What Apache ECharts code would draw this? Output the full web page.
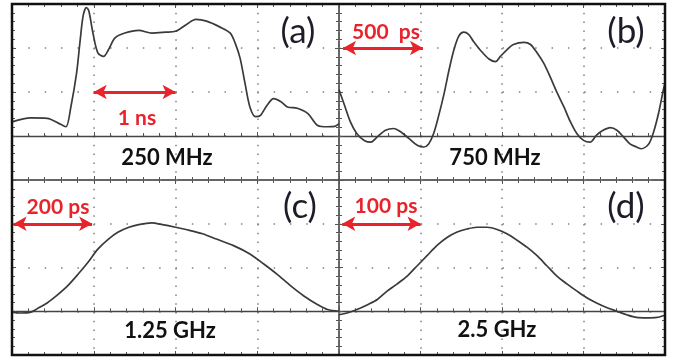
<!DOCTYPE html>
<html>
<head>
<meta charset="utf-8">
<script src="https://cdn.jsdelivr.net/npm/echarts@6/dist/echarts.min.js"></script>
<style>
  html, body { margin: 0; padding: 0; background: #fff; }
  #chart { width: 678px; height: 358px; }
</style>
</head>
<body>
<div id="chart"></div>
<script>
// 横轴单位：格（每格 = 面板时间刻度），纵轴单位：格
const tA = [0, 0.23, 0.43, 0.60, 0.66, 0.72, 0.79, 0.83, 0.87, 0.91, 0.94, 0.99, 1.05, 1.12, 1.18, 1.26, 1.38, 1.55, 1.71, 1.88, 2.00, 2.13, 2.25, 2.38, 2.54, 2.67, 2.73, 2.79, 2.85, 2.91, 2.98, 3.04, 3.12, 3.20, 3.29, 3.37, 3.49, 3.62, 3.74, 3.86, 3.95, 4.0];
const vA = [0.32, 0.41, 0.40, 0.26, 0.21, 0.66, 1.43, 2.11, 2.73, 2.92, 2.84, 2.34, 1.89, 1.81, 1.96, 2.23, 2.34, 2.40, 2.34, 2.36, 2.38, 2.53, 2.65, 2.61, 2.48, 2.34, 2.11, 1.77, 1.20, 0.66, 0.44, 0.47, 0.70, 0.85, 0.78, 0.66, 0.63, 0.51, 0.24, 0.21, 0.22, 0.28];

const tB = [0, 0.06, 0.14, 0.22, 0.31, 0.39, 0.47, 0.57, 0.67, 0.76, 0.86, 0.96, 1.04, 1.10, 1.16, 1.22, 1.29, 1.35, 1.41, 1.47, 1.53, 1.59, 1.65, 1.73, 1.84, 1.92, 1.98, 2.06, 2.14, 2.27, 2.35, 2.43, 2.51, 2.59, 2.67, 2.76, 2.84, 2.92, 3.00, 3.08, 3.16, 3.24, 3.33, 3.41, 3.49, 3.57, 3.65, 3.71, 3.80, 3.86, 3.92, 3.98, 4.0];
const vB = [1.05, 0.74, 0.32, 0.05, -0.10, -0.14, -0.02, 0.13, 0.17, 0.09, -0.06, -0.21, -0.25, -0.18, 0.05, 0.44, 0.97, 1.50, 1.96, 2.27, 2.36, 2.31, 2.15, 1.96, 1.75, 1.69, 1.81, 1.96, 2.08, 2.13, 2.08, 1.89, 1.66, 1.35, 1.01, 0.66, 0.32, 0.05, -0.10, -0.14, 0.02, 0.13, 0.19, 0.13, -0.02, -0.18, -0.25, -0.29, -0.18, 0.09, 0.51, 1.05, 1.20];

const tC = [0, 0.10, 0.23, 0.31, 0.43, 0.56, 0.68, 0.81, 0.93, 1.05, 1.18, 1.30, 1.43, 1.55, 1.71, 1.84, 2.00, 2.17, 2.33, 2.50, 2.71, 2.91, 3.08, 3.24, 3.41, 3.57, 3.74, 3.86, 4.0];
const vC = [-0.02, -0.04, -0.02, 0.06, 0.19, 0.38, 0.58, 0.85, 1.12, 1.42, 1.65, 1.81, 1.92, 1.98, 2.02, 1.98, 1.92, 1.85, 1.77, 1.65, 1.50, 1.31, 1.08, 0.85, 0.58, 0.35, 0.15, 0.04, 0];

const tD = [0, 0.10, 0.22, 0.35, 0.47, 0.59, 0.71, 0.84, 0.96, 1.08, 1.20, 1.33, 1.45, 1.57, 1.69, 1.82, 1.94, 2.06, 2.18, 2.31, 2.43, 2.55, 2.67, 2.80, 2.92, 3.04, 3.16, 3.29, 3.41, 3.53, 3.65, 3.78, 3.90, 4.0];
const vD = [-0.08, -0.04, 0.04, 0.15, 0.27, 0.46, 0.62, 0.81, 1.04, 1.27, 1.50, 1.69, 1.81, 1.88, 1.92, 1.92, 1.87, 1.77, 1.63, 1.46, 1.27, 1.04, 0.81, 0.62, 0.46, 0.31, 0.19, 0.08, 0, -0.08, -0.14, -0.15, -0.14, -0.09];

const panelTags = ["(a)", "(b)", "(c)", "(d)"];
const freqLabels = ["250 MHz", "750 MHz", "1.25 GHz", "2.5 GHz"];
const scaleLabels = ["1 ns", "500  ps", "200 ps", "100 ps"];
// 时间标尺箭头（起点、终点，单位：格）
const arrows = [
  [[1, 1], [2, 1]],
  [[0.05, 2], [1.03, 2]],
  [[0.02, 2], [0.98, 2]],
  [[0.04, 2], [1.0, 2]],
];

const times = [tA, tB, tC, tD];
const volts = [vA, vB, vC, vD];

const RED = "#e8232b";
const INK = "#3a3a3a";
const DOT = "#808080";

const grids = [
  { left: 12, top: 4, width: 327, height: 176 },
  { left: 339, top: 4, width: 326, height: 176 },
  { left: 12, top: 180, width: 327, height: 175 },
  { left: 339, top: 180, width: 326, height: 175 },
].map((g) => ({ ...g, show: true, borderColor: "#333", borderWidth: 1 }));

const tickBase = {
  axisLabel: { show: false },
  axisTick: { show: true, inside: true, length: 4, lineStyle: { color: "#555" } },
  minorTick: { show: true, splitNumber: 5, length: 3, lineStyle: { color: "#555" } },
};

const xAxis = [];
const yAxis = [];
grids.forEach((g, i) => {
  const xr = { gridIndex: i, type: "value", min: 0, max: 4, interval: 1 };
  const yr = { gridIndex: i, type: "value", min: -1, max: 3, interval: 1 };
  // 零线（实线，带小刻度）
  xAxis.push({
    ...xr, ...tickBase, position: "bottom",
    axisLine: { show: true, onZero: true, lineStyle: { color: "#444", width: 1.3 } },
    splitLine: { show: true, lineStyle: { color: DOT, width: 1.5, type: [1.5, 7.3] } },
  });
  xAxis.push({
    ...xr, ...tickBase, position: "top",
    axisLine: { show: false, onZero: false }, splitLine: { show: false },
  });
  xAxis.push({
    ...xr, ...tickBase, position: "bottom",
    axisLine: { show: false, onZero: false }, splitLine: { show: false },
  });
  yAxis.push({
    ...yr, ...tickBase, position: "left",
    axisLine: { show: false, onZero: false },
    splitLine: { show: true, lineStyle: { color: DOT, width: 1.5, type: [1.5, 14.85] } },
  });
  yAxis.push({
    ...yr, ...tickBase, position: "right",
    axisLine: { show: false, onZero: false }, splitLine: { show: false },
  });
});

const series = times.map((t, i) => ({
  type: "line",
  xAxisIndex: i * 3,
  yAxisIndex: i * 2,
  data: t.map((x, k) => [x, volts[i][k]]),
  showSymbol: false,
  smooth: 0.3,
  lineStyle: { color: INK, width: 1.7 },
  markLine: {
    silent: true,
    symbol: ["arrow", "arrow"],
    symbolSize: [11, 13],
    label: { show: false },
    lineStyle: { color: RED, width: 3, type: "solid" },
    data: [[{ coord: arrows[i][0] }, { coord: arrows[i][1] }]],
  },
}));

// 文本位置（像素）
const tagPos = [[298, 32], [626, 32], [300, 207], [626, 207]];
const freqPos = [[167, 158], [495, 158], [170, 331], [497, 330]];
const scalePos = [[137, 118], [386, 32], [58, 207], [386, 206]];

const graphic = [];
panelTags.forEach((s, i) => {
  graphic.push({
    type: "text", x: tagPos[i][0], y: tagPos[i][1], z: 10,
    style: { text: s, fill: "#1d1d29", font: "normal 35px Lato, 'Open Sans', sans-serif", align: "center", verticalAlign: "middle" },
  });
  graphic.push({
    type: "text", x: freqPos[i][0], y: freqPos[i][1], z: 10,
    style: { text: freqLabels[i], fill: "#111", font: "bold 22px Lato, 'Open Sans', sans-serif", align: "center", verticalAlign: "middle" },
  });
  graphic.push({
    type: "text", x: scalePos[i][0], y: scalePos[i][1], z: 10,
    style: { text: scaleLabels[i], fill: RED, font: "bold 21px Lato, 'Open Sans', sans-serif", align: "center", verticalAlign: "middle" },
  });
});
graphic.push({
  type: "rect", z: 20, silent: true,
  shape: { x: 12, y: 4, width: 653, height: 351 },
  style: { fill: "none", stroke: "#111", lineWidth: 2.5 },
});

const chart = echarts.init(document.getElementById("chart"));
chart.setOption({
  animation: false,
  backgroundColor: "#fff",
  grid: grids,
  xAxis,
  yAxis,
  series,
  graphic,
});
</script>
</body>
</html>
